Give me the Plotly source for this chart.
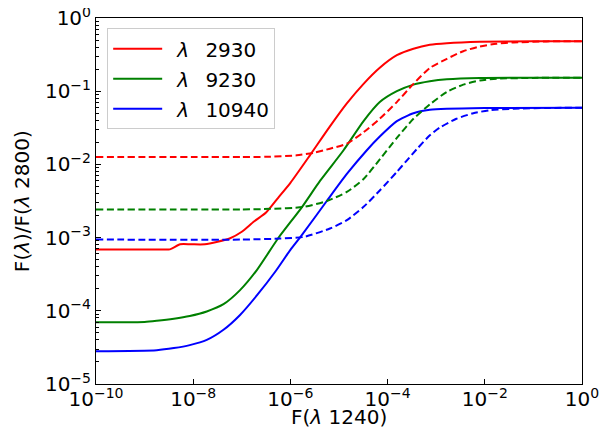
import plotly.graph_objects as go

# ---- data (F(λ1240) vs F(λ)/F(λ2800)) ----
red_solid_x = [1e-10, 2e-9, 3.3e-9, 5.4e-9, 9e-9, 1.74e-8, 5.75e-8, 1e-7, 1.78e-7, 3.16e-7, 5.6e-7, 1e-6,
               2.5e-6, 6.3e-6, 1.45e-5, 3.2e-5, 6.9e-5, 1.55e-4, 3.4e-4, 7.4e-4, 1.66e-3, 7.9e-3, 0.1, 1.0]
red_solid_y = [6.9e-4, 6.9e-4, 6.9e-4, 8.1e-4, 8.1e-4, 8.1e-4, 9.8e-4, 1.2e-3, 1.66e-3, 2.2e-3, 3.5e-3, 5.6e-3,
               1.32e-2, 3.2e-2, 6.8e-2, 0.126, 0.209, 0.31, 0.38, 0.43, 0.452, 0.473, 0.481, 0.482]

red_dash_x = [1e-10, 1e-7, 3.16e-7, 1.35e-6, 3.16e-6, 6.5e-6, 1.45e-5, 3.2e-5, 6.9e-5, 1.55e-4,
              3.4e-4, 7.4e-4, 1.66e-3, 3.6e-3, 7.9e-3, 1.74e-2, 3.9e-2, 0.186, 1.0]
red_dash_y = [1.26e-2, 1.26e-2, 1.27e-2, 1.33e-2, 1.45e-2, 1.64e-2, 1.92e-2, 2.75e-2, 4.2e-2, 7.1e-2,
              0.126, 0.208, 0.277, 0.352, 0.408, 0.445, 0.463, 0.479, 0.482]

green_solid_x = [1e-10, 1e-9, 1.78e-9, 4e-9, 8.5e-9, 1.9e-8, 4.2e-8, 9.1e-8, 2.04e-7, 5.6e-7, 1.7e-6,
                 4.1e-6, 1.23e-5, 3.2e-5, 6.9e-5, 1.55e-4, 3.4e-4, 7.4e-4, 1.66e-3, 7.9e-3, 1.0]
green_solid_y = [7e-5, 7.05e-5, 7.3e-5, 7.8e-5, 8.5e-5, 9.8e-5, 1.23e-4, 1.9e-4, 3.6e-4, 9.8e-4, 2.57e-3,
                 6e-3, 1.55e-2, 3.9e-2, 7.1e-2, 0.1, 0.123, 0.137, 0.146, 0.152, 0.153]

green_dash_x = [1e-10, 1e-7, 3.8e-7, 1.86e-6, 5.6e-6, 1.45e-5, 3.2e-5, 6.9e-5, 1.55e-4, 3.4e-4,
                7.4e-4, 1.66e-3, 3.6e-3, 7.9e-3, 1.74e-2, 0.1, 1.0]
green_dash_y = [2.42e-3, 2.42e-3, 2.47e-3, 2.62e-3, 3.16e-3, 4.2e-3, 6.3e-3, 1.17e-2, 2.3e-2, 4.2e-2,
                6.6e-2, 9.8e-2, 0.123, 0.14, 0.148, 0.152, 0.153]

blue_solid_x = [1e-10, 1.78e-9, 4e-9, 8.5e-9, 1.9e-8, 4.2e-8, 9.1e-8, 2.04e-7, 5e-7, 1e-6, 1.7e-6,
                5.6e-6, 1.45e-5, 3.7e-5, 6.9e-5, 1.55e-4, 3.4e-4, 7.4e-4, 1.66e-3, 1e-2, 1.0]
blue_solid_y = [2.8e-5, 2.9e-5, 3.1e-5, 3.4e-5, 4e-5, 5.5e-5, 8.7e-5, 1.62e-4, 3.5e-4, 6.8e-4, 1.07e-3,
                3.16e-3, 7.4e-3, 1.55e-2, 2.4e-2, 3.9e-2, 5e-2, 5.56e-2, 5.75e-2, 5.9e-2, 5.96e-2]

blue_dash_x = [1e-10, 1e-7, 6.2e-7, 1.86e-6, 6.5e-6, 1.45e-5, 3.2e-5, 6.9e-5, 1.55e-4, 2.45e-4,
               4e-4, 7.4e-4, 1.2e-3, 2.6e-3, 5.8e-3, 1.29e-2, 3.9e-2, 0.2, 1.0]
blue_dash_y = [9.4e-4, 9.4e-4, 9.7e-4, 1.02e-3, 1.33e-3, 1.73e-3, 2.63e-3, 4.4e-3, 7.9e-3, 1.12e-2,
               1.62e-2, 2.5e-2, 3.2e-2, 4.2e-2, 5e-2, 5.5e-2, 5.75e-2, 5.9e-2, 5.96e-2]

series_names = ["\u2002<i>λ</i>\u2002 2930", "\u2002<i>λ</i>\u2002 9230", "\u2002<i>λ</i>\u2002 10940"]
series_colors = ["#ff0000", "#008000", "#0000ff"]

x_title = "F(<i>λ</i> 1240)"
y_title = "F(<i>λ</i>)/F(<i>λ</i> 2800)"

x_tick_vals = [1e-10, 1e-8, 1e-6, 1e-4, 1e-2, 1]
x_tick_text = ["10<sup>−10</sup>", "10<sup>−8</sup>", "10<sup>−6</sup>",
               "10<sup>−4</sup>", "10<sup>−2</sup>", "10<sup>0</sup>"]
y_tick_vals = [1e-5, 1e-4, 1e-3, 1e-2, 1e-1, 1]
y_tick_text = ["10<sup>−5</sup>", "10<sup>−4</sup>", "10<sup>−3</sup>",
               "10<sup>−2</sup>", "10<sup>−1</sup>", "10<sup>0</sup>"]
y_minor_vals = [m * 10.0 ** e for e in range(-5, 0) for m in range(2, 10)]

FONT = "DejaVu Sans"
TICK_SIZE = 20
TITLE_SIZE = 20
LEGEND_SIZE = 20

fig = go.Figure()
solid = [(red_solid_x, red_solid_y), (green_solid_x, green_solid_y), (blue_solid_x, blue_solid_y)]
dashed = [(red_dash_x, red_dash_y), (green_dash_x, green_dash_y), (blue_dash_x, blue_dash_y)]

for i, (xs, ys) in enumerate(solid):
    fig.add_trace(go.Scatter(x=xs, y=ys, mode="lines", name=series_names[i],
                             legendgroup=f"g{i}",
                             line=dict(color=series_colors[i], width=2,
                                       shape="spline", smoothing=0.6)))
for i, (xs, ys) in enumerate(dashed):
    fig.add_trace(go.Scatter(x=xs, y=ys, mode="lines", name=series_names[i],
                             legendgroup=f"g{i}", showlegend=False,
                             line=dict(color=series_colors[i], width=2, dash="7px,3.5px",
                                       shape="spline", smoothing=0.6)))

axis_common = dict(type="log", showgrid=False, zeroline=False, showline=True,
                   linecolor="black", linewidth=1, mirror=True, automargin=False,
                   ticks="inside", ticklen=5, tickcolor="black", ticklabeloverflow="allow",
                   tickfont=dict(family=FONT, size=TICK_SIZE, color="black"))

# the page body has an 8px margin, so the figure is sized to fit inside it
fig.update_layout(
    width=592, height=421,
    margin=dict(l=88, r=18, t=10, b=45),
    paper_bgcolor="white", plot_bgcolor="white",
    font=dict(family=FONT, size=TICK_SIZE, color="black"),
    xaxis=dict(range=[-10, 0], tickmode="array", tickvals=x_tick_vals, ticktext=x_tick_text,
               ticklabelstandoff=-3, **axis_common),
    yaxis=dict(range=[-5, 0], tickmode="array", tickvals=y_tick_vals, ticktext=y_tick_text,
               minor=dict(tickmode="array", tickvals=y_minor_vals, ticks="inside",
                          ticklen=3, tickcolor="black", showgrid=False),
               **axis_common),
    legend=dict(x=0.023, y=0.972, xanchor="left", yanchor="top",
                bgcolor="white", bordercolor="#cccccc", borderwidth=1,
                font=dict(family=FONT, size=LEGEND_SIZE, color="black"),
                itemwidth=49, tracegroupgap=1, traceorder="grouped"),
    showlegend=True,
    annotations=[
        dict(text=x_title, xref="paper", yref="paper", x=0.5, y=-0.09,
             xanchor="center", yanchor="middle", showarrow=False,
             font=dict(family=FONT, size=TITLE_SIZE, color="black")),
        dict(text=y_title, xref="paper", yref="paper", x=-0.152, y=0.5,
             xanchor="center", yanchor="middle", showarrow=False, textangle=-90,
             font=dict(family=FONT, size=TITLE_SIZE, color="black")),
    ],
)

fig.write_html("out.html")
